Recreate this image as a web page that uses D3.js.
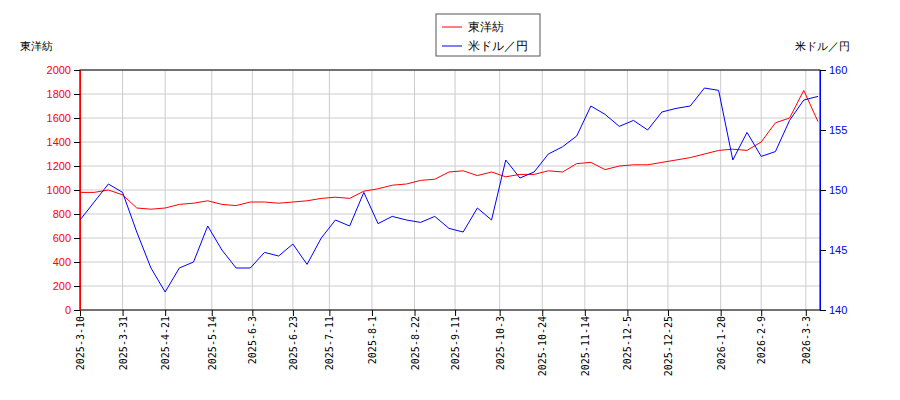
<!DOCTYPE html>
<html><head><meta charset="utf-8">
<script src="https://cdn.jsdelivr.net/npm/d3@7"></script>
<style>body{margin:0;background:#fff;font-family:"DejaVu Sans",sans-serif;}</style>
</head><body><div id="chart"></div>
<script>
// weekly dates from 2025-03-10
var startDate = "2025-03-10";
var stockVals = [980,980,1000,960,850,840,850,880,890,910,880,870,900,900,890,900,910,930,940,930,990,1010,1040,1050,1080,1090,1150,1160,1120,1150,1110,1130,1130,1160,1150,1220,1230,1170,1200,1210,1210,1230,1250,1270,1300,1330,1340,1330,1400,1560,1600,1830,1570];
var fxVals = [147.5,149,150.5,149.8,146.5,143.5,141.5,143.5,144,147.0,145,143.5,143.5,144.8,144.5,145.5,143.8,146,147.5,147,149.8,147.2,147.8,147.5,147.3,147.8,146.8,146.5,148.5,147.5,152.5,151,151.5,153,153.6,154.5,157.0,156.3,155.3,155.8,155.0,156.5,156.8,157.0,158.5,158.3,152.5,154.8,152.8,153.2,155.8,157.5,157.8];
var tickLabels = ["2025-3-10","2025-3-31","2025-4-21","2025-5-14","2025-6-3","2025-6-23","2025-7-11","2025-8-1","2025-8-22","2025-9-11","2025-10-3","2025-10-24","2025-11-14","2025-12-5","2025-12-25","2026-1-20","2026-2-9","2026-3-3"];
var leftTicks = [0,200,400,600,800,1000,1200,1400,1600,1800,2000];
var rightTicks = [140,145,150,155,160];

var W=900,H=400,L=80,R=820,T=70,B=310;
var parse=d3.timeParse("%Y-%m-%d");
var t0=parse(startDate);
var dates=stockVals.map(function(d,i){return d3.timeDay.offset(t0,i*7);});

var svg=d3.select("#chart").append("svg").attr("width",W).attr("height",H);
var x=d3.scaleTime().domain([t0,d3.timeDay.offset(t0,365)]).range([L,R]);
var yL=d3.scaleLinear().domain([0,2000]).range([B,T]);
var yR=d3.scaleLinear().domain([140,160]).range([B,T]);
var tickDates=tickLabels.map(function(s){return parse(s.replace(/-(\d)(?!\d)/g,"-0$1"));});

// grid
svg.append("g").selectAll("line").data(leftTicks).enter().append("line")
  .attr("x1",L).attr("x2",R).attr("y1",yL).attr("y2",yL).attr("stroke","#ccc");
svg.append("g").selectAll("line").data(tickDates).enter().append("line")
  .attr("x1",x).attr("x2",x).attr("y1",T).attr("y2",B).attr("stroke","#ccc");

svg.append("rect").attr("x",L).attr("y",T).attr("width",R-L).attr("height",B-T).attr("fill","none").attr("stroke","#000");

var ax=svg.append("g").attr("transform","translate(0,"+B+")")
  .call(d3.axisBottom(x).tickValues(tickDates).tickFormat(function(d,i){return tickLabels[i];}).tickSizeOuter(0));
ax.selectAll("text").attr("transform","rotate(-90)").attr("text-anchor","end").attr("x",-6).attr("y",0).attr("dy","0.35em")
  .style("font-family","DejaVu Sans Mono,monospace").style("font-size","10px");
ax.select(".domain").remove();

var al=svg.append("g").attr("transform","translate("+L+",0)").call(d3.axisLeft(yL).tickValues(leftTicks).tickFormat(d3.format("d")).tickSizeOuter(0));
al.selectAll("text").style("fill","#f00").style("font-size","11px");
al.select(".domain").attr("stroke","#f00");
var ar=svg.append("g").attr("transform","translate("+R+",0)").call(d3.axisRight(yR).tickValues(rightTicks).tickSizeOuter(0));
ar.selectAll("text").style("fill","#00f").style("font-size","11px");
ar.select(".domain").attr("stroke","#00f");

svg.append("path").datum(stockVals).attr("fill","none").attr("stroke","#f00").attr("stroke-width",1)
  .attr("d",d3.line().x(function(d,i){return x(dates[i]);}).y(function(d){return yL(d);}));
svg.append("path").datum(fxVals).attr("fill","none").attr("stroke","#00f").attr("stroke-width",1)
  .attr("d",d3.line().x(function(d,i){return x(dates[i]);}).y(function(d){return yR(d);}));

svg.append("text").attr("x",20).attr("y",50).style("font-size","11px").text("東洋紡");
svg.append("text").attr("x",850).attr("y",50).attr("text-anchor","end").style("font-size","11px").text("米ドル／円");

var lg=svg.append("g");
lg.append("rect").attr("x",436).attr("y",14).attr("width",104).attr("height",42).attr("fill","#fff").attr("stroke","#555");
[["東洋紡","#f00"],["米ドル／円","#00f"]].forEach(function(d,i){
  var yy=27+i*19;
  lg.append("line").attr("x1",442).attr("x2",462).attr("y1",yy).attr("y2",yy).attr("stroke",d[1]);
  lg.append("text").attr("x",468).attr("y",yy+4).style("font-size","12px").text(d[0]);
});
</script></body></html>
